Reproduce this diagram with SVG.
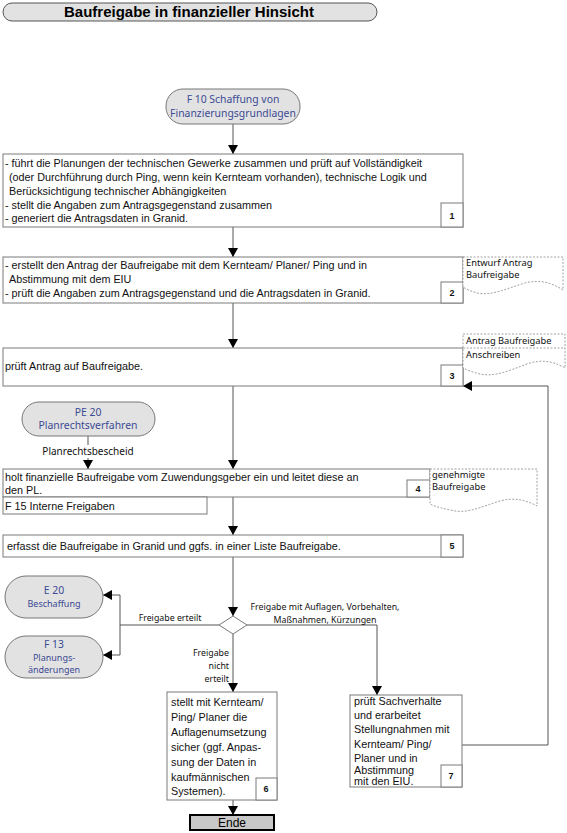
<svg xmlns="http://www.w3.org/2000/svg" width="567" height="833" viewBox="0 0 567 833">
<style>
.box{fill:#fff;stroke:#7a7a7a;stroke-width:1}
.pill{fill:#e2e2e2;stroke:#777;stroke-width:1}
.doc{fill:#fff;stroke:#8a8a8a;stroke-width:0.8;stroke-dasharray:2,1.5}
.t{font-family:"Liberation Sans",Arial,sans-serif;font-size:10.8px;fill:#111}
.pt{font-family:"Noto Sans","DejaVu Sans",sans-serif;font-size:10.4px;fill:#3b4a94;text-anchor:middle}
.lb{font-family:"Noto Sans","DejaVu Sans",sans-serif;font-size:8.8px;fill:#111}
.dl{font-family:"Noto Sans","DejaVu Sans",sans-serif;font-size:9.3px;fill:#111}
.num{font-family:"Liberation Sans",Arial,sans-serif;font-size:9px;font-weight:bold;fill:#111;text-anchor:middle}
.c{fill:none;stroke:#555;stroke-width:1}
</style>
<defs>
<marker id="ah" markerWidth="10" markerHeight="10" refX="9" refY="5" orient="auto" markerUnits="userSpaceOnUse">
<path d="M0,0 L9,5 L0,10 Z" fill="#000"/>
</marker>
</defs>

<g id="title">
<rect x="3" y="3" width="374" height="18" rx="9" class="pill" style="stroke:#555"/>
<text x="189" y="17" style="font-family:'Liberation Sans',Arial,sans-serif;font-size:15px;font-weight:bold;text-anchor:middle">Baufreigabe in finanzieller Hinsicht</text>
</g>

<g id="connectors">
<line x1="233" y1="124" x2="233" y2="154" class="c" marker-end="url(#ah)"/>
<line x1="233" y1="227" x2="233" y2="257" class="c" marker-end="url(#ah)"/>
<line x1="233" y1="303" x2="233" y2="348" class="c" marker-end="url(#ah)"/>
<line x1="233" y1="386" x2="233" y2="469" class="c" marker-end="url(#ah)"/>
<polyline points="88,436 88,445" class="c"/>
<line x1="88" y1="458" x2="88" y2="469" class="c" marker-end="url(#ah)"/>
<line x1="233" y1="497" x2="233" y2="535" class="c" marker-end="url(#ah)"/>
<line x1="233" y1="557" x2="233" y2="616" class="c" marker-end="url(#ah)"/>
<polyline points="219,625 120,625" class="c"/>
<polyline points="120,655 120,595" class="c"/>
<line x1="120" y1="595" x2="103" y2="595" class="c" marker-end="url(#ah)"/>
<line x1="120" y1="655" x2="103" y2="655" class="c" marker-end="url(#ah)"/>
<polyline points="247,625 377,625 377,695" class="c" marker-end="url(#ah)"/>
<line x1="233" y1="634" x2="233" y2="692" class="c" marker-end="url(#ah)"/>
<line x1="233" y1="800" x2="233" y2="815" class="c" marker-end="url(#ah)"/>
<polyline points="462,745 548,745 548,386 463,386" class="c" marker-end="url(#ah)"/>
<text x="170" y="621" class="lb" text-anchor="middle">Freigabe erteilt</text>
<text x="325" y="610" class="lb" text-anchor="middle">Freigabe mit Auflagen, Vorbehalten,</text>
<text x="325" y="623" class="lb" text-anchor="middle">Maßnahmen, Kürzungen</text>
<text x="229" y="656" class="lb" text-anchor="end">Freigabe</text>
<text x="229" y="669" class="lb" text-anchor="end">nicht</text>
<text x="229" y="682" class="lb" text-anchor="end">erteilt</text>
<text x="88" y="455" class="lb" text-anchor="middle" style="font-size:10px">Planrechtsbescheid</text>
</g>

<g id="f10">
<rect x="166" y="89" width="134" height="35" rx="17" class="pill"/>
<text x="233" y="103" class="pt">F 10 Schaffung von</text>
<text x="233" y="117" class="pt">Finanzierungsgrundlagen</text>
</g>

<g id="step1">
<rect x="3" y="154" width="460" height="73" class="box"/>
<text class="t" x="5" y="167">- führt die Planungen der technischen Gewerke zusammen und prüft auf Vollständigkeit</text>
<text class="t" x="9" y="181">(oder Durchführung durch Ping, wenn kein Kernteam vorhanden), technische Logik und</text>
<text class="t" x="9" y="195">Berücksichtigung technischer Abhängigkeiten</text>
<text class="t" x="5" y="209">- stellt die Angaben zum Antragsgegenstand zusammen</text>
<text class="t" x="5" y="222">- generiert die Antragsdaten in Granid.</text>
<rect x="441" y="203" width="22" height="24" class="box"/>
<text x="452" y="219" class="num">1</text>
</g>

<g id="step2">
<rect x="3" y="257" width="460" height="46" class="box"/>
<text class="t" x="5" y="269">- erstellt den Antrag der Baufreigabe mit dem Kernteam/ Planer/ Ping und in</text>
<text class="t" x="9" y="283">Abstimmung mit dem EIU</text>
<text class="t" x="5" y="297">- prüft die Angaben zum Antragsgegenstand und die Antragsdaten in Granid.</text>
<rect x="441" y="282" width="22" height="21" class="box"/>
<text x="452" y="296" class="num">2</text>
</g>

<g id="doc2">
<path d="M463,257 H563 V290 C552,283 540,279 525,283 C505,289 492,296 477,293 C470,291 466,289 463,287 Z" class="doc"/>
<text x="466" y="266" class="dl">Entwurf Antrag</text>
<text x="466" y="278" class="dl">Baufreigabe</text>
</g>

<g id="step3">
<rect x="3" y="348" width="460" height="38" class="box"/>
<text class="t" x="5" y="370">prüft Antrag auf Baufreigabe.</text>
<rect x="441" y="365" width="22" height="21" class="box"/>
<text x="452" y="379" class="num">3</text>
</g>

<g id="doc3">
<path d="M463,334 H565 V368 C553,361 541,359 527,364 C508,371 495,377 480,374 C472,372 467,370 463,368 Z" class="doc"/>
<line x1="463" y1="348" x2="565" y2="348" class="doc"/>
<text x="466" y="344" class="dl">Antrag Baufreigabe</text>
<text x="466" y="358" class="dl">Anschreiben</text>
</g>

<g id="pe20">
<rect x="22" y="402" width="133" height="34" rx="17" class="pill"/>
<text x="88" y="416" class="pt">PE 20</text>
<text x="88" y="429" class="pt">Planrechtsverfahren</text>
</g>

<g id="step4">
<rect x="3" y="469" width="427" height="28" class="box"/>
<text class="t" x="5" y="481">holt finanzielle Baufreigabe vom Zuwendungsgeber ein und leitet diese an</text>
<text class="t" x="5" y="494">den PL.</text>
<rect x="407" y="480" width="23" height="17" class="box"/>
<text x="418" y="492" class="num">4</text>
<rect x="3" y="497" width="204" height="17" class="box"/>
<text class="t" x="5" y="510">F 15 Interne Freigaben</text>
</g>

<g id="doc4">
<path d="M430,469 H537 V506 C526,500 514,497 500,501 C483,506 470,513 455,511 C445,509 436,507 430,504 Z" class="doc"/>
<text x="432" y="478" class="dl">genehmigte</text>
<text x="432" y="490" class="dl">Baufreigabe</text>
</g>

<g id="step5">
<rect x="3" y="535" width="460" height="22" class="box"/>
<text class="t" x="7" y="550">erfasst die Baufreigabe in Granid und ggfs. in einer Liste Baufreigabe.</text>
<rect x="441" y="535" width="22" height="22" class="box"/>
<text x="452" y="549" class="num">5</text>
</g>

<g id="decision">
<polygon points="233,616 247,625 233,634 219,625" class="box"/>
</g>

<g id="e20">
<rect x="5" y="576" width="98" height="42" rx="21" class="pill"/>
<text x="54" y="594" class="pt">E 20</text>
<text x="54" y="607" class="pt" style="font-size:9px">Beschaffung</text>
</g>

<g id="f13">
<rect x="5" y="636" width="98" height="42" rx="21" class="pill"/>
<text x="54" y="648" class="pt">F 13</text>
<text x="54" y="661" class="pt" style="font-size:9px">Planungs-</text>
<text x="54" y="673" class="pt" style="font-size:9px">änderungen</text>
</g>

<g id="step6">
<rect x="167" y="692" width="110" height="108" class="box"/>
<text class="t" x="171" y="706">stellt mit Kernteam/</text>
<text class="t" x="171" y="721">Ping/ Planer die</text>
<text class="t" x="171" y="736">Auflagenumsetzung</text>
<text class="t" x="171" y="751">sicher (ggf. Anpas-</text>
<text class="t" x="171" y="766">sung der Daten in</text>
<text class="t" x="171" y="781">kaufmännischen</text>
<text class="t" x="171" y="795">Systemen).</text>
<rect x="256" y="778" width="21" height="22" class="box"/>
<text x="266" y="792" class="num">6</text>
</g>

<g id="step7">
<rect x="350" y="695" width="112" height="92" class="box"/>
<text class="t" x="354" y="705">prüft Sachverhalte</text>
<text class="t" x="354" y="719">und erarbeitet</text>
<text class="t" x="354" y="733">Stellungnahmen mit</text>
<text class="t" x="354" y="748">Kernteam/ Ping/</text>
<text class="t" x="354" y="762">Planer und in</text>
<text class="t" x="354" y="774">Abstimmung</text>
<text class="t" x="354" y="785">mit den EIU.</text>
<rect x="441" y="765" width="21" height="22" class="box"/>
<text x="451" y="779" class="num">7</text>
</g>

<g id="ende">
<rect x="190" y="815" width="84" height="15" style="fill:#c8c8c8;stroke:#000;stroke-width:2"/>
<text x="232" y="827" style="font-family:'Liberation Sans',Arial,sans-serif;font-size:12px;text-anchor:middle">Ende</text>
</g>
</svg>
